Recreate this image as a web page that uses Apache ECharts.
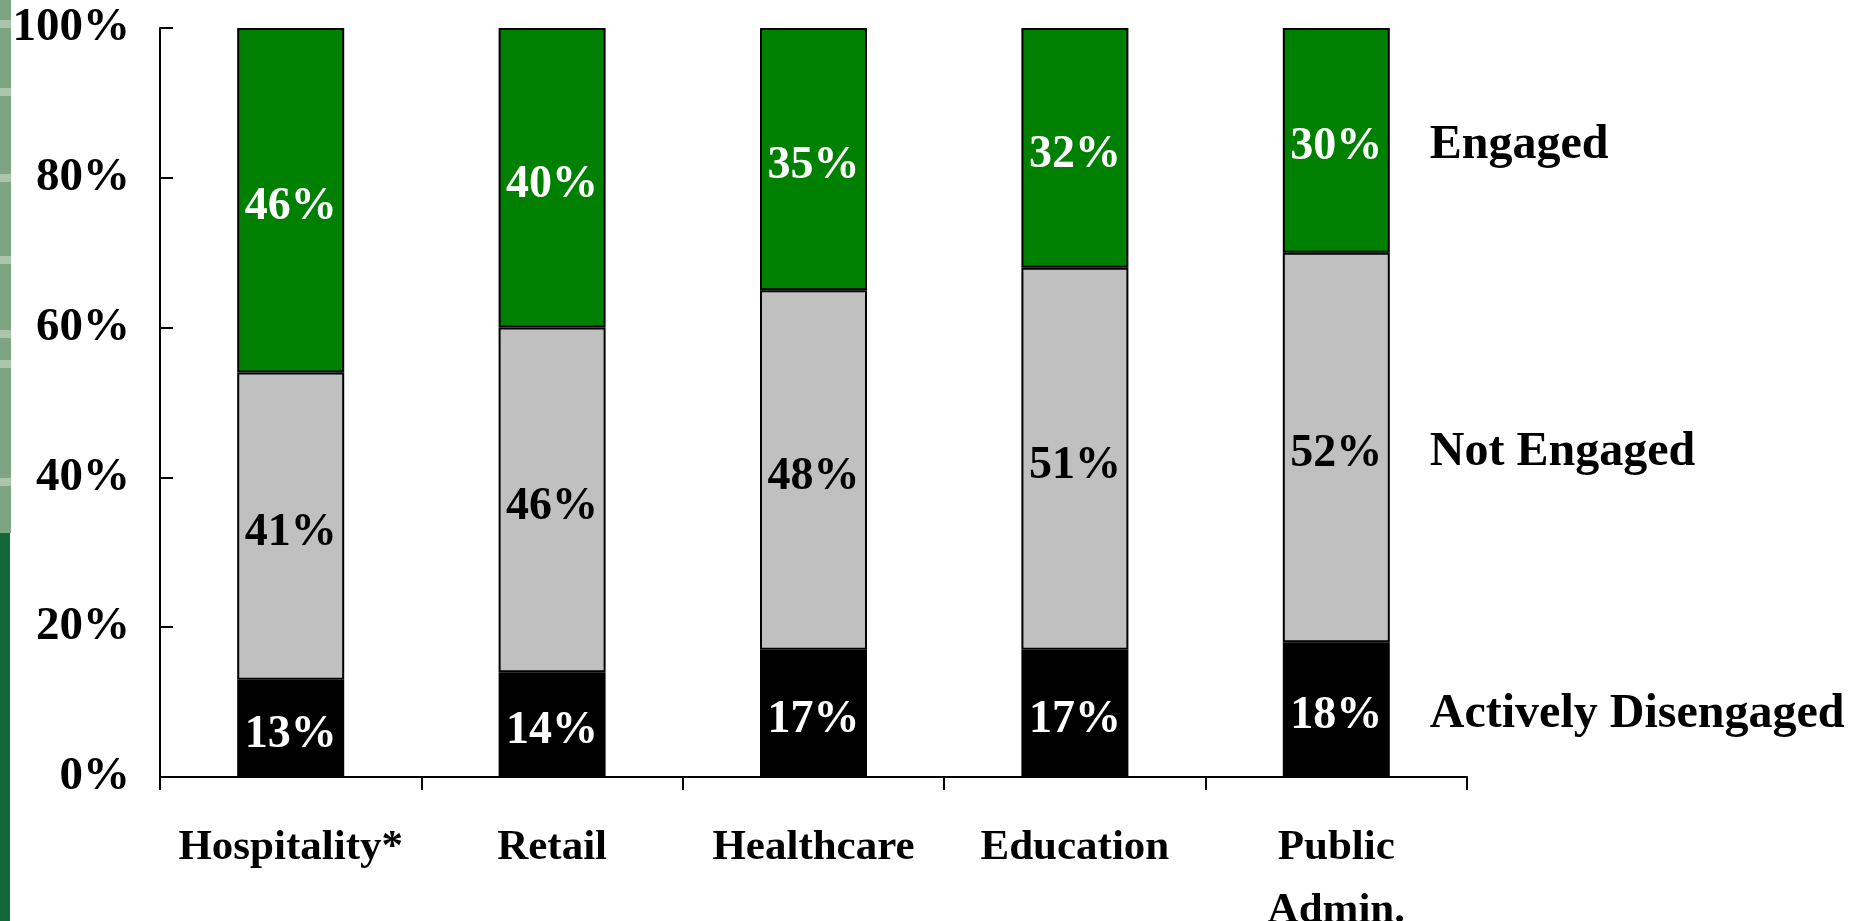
<!DOCTYPE html>
<html>
<head>
<meta charset="utf-8">
<title>Engagement by Industry</title>
<script src="https://cdn.jsdelivr.net/npm/echarts@6/dist/echarts.min.js"></script>
<style>
  html, body { margin: 0; padding: 0; background: #ffffff; overflow: hidden; }
  #chart { width: 1860px; height: 921px; }
</style>
</head>
<body>
<div id="chart"></div>
<script>
// Industries along the x axis
const categories = ['Hospitality*', 'Retail', 'Healthcare', 'Education', 'Public\nAdmin.'];

// Share of employees in each engagement group (percent), stacked bottom to top
const activelyDisengaged = [13, 14, 17, 17, 18];
const notEngaged = [41, 46, 48, 51, 52];
const engaged = [46, 40, 35, 32, 30];

const seriesNames = ['Actively Disengaged', 'Not Engaged', 'Engaged'];
const seriesValues = [activelyDisengaged, notEngaged, engaged];

// Value axis ticks
const yTicks = [0, 20, 40, 60, 80, 100];

const FONT = '"Liberation Serif", "Times New Roman", serif';
const BAR_WIDTH = 107;

const fills = ['#000000', '#c0c0c0', '#008000'];
const labelColors = ['#ffffff', '#000000', '#ffffff'];

const chart = echarts.init(document.getElementById('chart'), null, { renderer: 'canvas' });

// Decorative slide stripe at the left edge
const stripe = [
  { type: 'rect', shape: { x: 0, y: 0, width: 11, height: 533 }, style: { fill: '#7da581' }, z: -10 },
  { type: 'rect', shape: { x: 0, y: 533, width: 10, height: 388 }, style: { fill: '#13683a' }, z: -10 }
];
[20, 88, 174, 256, 330, 360, 478].forEach(function (y) {
  stripe.push({ type: 'rect', shape: { x: 0, y: y, width: 11, height: 8 }, style: { fill: '#a9c6ab' }, z: -9 });
});

chart.setOption({
  animation: false,
  backgroundColor: '#ffffff',
  textStyle: { fontFamily: FONT },
  grid: { left: 160, right: 393, top: 28, bottom: 144, containLabel: false, outerBoundsMode: 'none' },
  xAxis: {
    type: 'category',
    data: categories,
    boundaryGap: true,
    axisLine: { show: true, lineStyle: { color: '#000', width: 2 } },
    axisTick: { show: true, length: 13, interval: 0, lineStyle: { color: '#000', width: 2 } },
    axisLabel: {
      interval: 0,
      margin: 39,
      color: '#000',
      fontFamily: FONT,
      fontWeight: 'bold',
      fontSize: 43,
      lineHeight: 63,
      hideOverlap: false
    },
    splitLine: { show: false }
  },
  yAxis: {
    type: 'value',
    min: yTicks[0],
    max: yTicks[yTicks.length - 1],
    interval: yTicks[1] - yTicks[0],
    axisLine: { show: true, lineStyle: { color: '#000', width: 2 } },
    axisTick: { show: true, inside: true, length: 13, lineStyle: { color: '#000', width: 2 } },
    axisLabel: {
      margin: 30,
      color: '#000',
      fontFamily: FONT,
      fontWeight: 'bold',
      fontSize: 47,
      formatter: '{value}%'
    },
    splitLine: { show: false }
  },
  series: seriesNames.map(function (name, i) {
    return {
      name: name,
      type: 'bar',
      stack: 'total',
      barWidth: BAR_WIDTH,
      data: seriesValues[i],
      itemStyle: { color: fills[i], borderColor: '#000', borderWidth: 2 },
      label: {
        show: true,
        position: 'inside',
        offset: [0, 7],
        formatter: '{c}%',
        color: labelColors[i],
        fontFamily: FONT,
        fontWeight: 'bold',
        fontSize: 46,
        textBorderWidth: 0
      },
      emphasis: { disabled: true }
    };
  }),
  graphic: stripe
});

// Series names written beside the last bar, at the middle of each segment
const lastIdx = categories.length - 1;
let base = 0;
const nameLabels = seriesNames.map(function (name, i) {
  const v = seriesValues[i][lastIdx];
  const pt = chart.convertToPixel({ gridIndex: 0 }, [lastIdx, base + v / 2]);
  base += v;
  return {
    type: 'text',
    x: pt[0] + BAR_WIDTH / 2 + 40,
    y: pt[1] + 5,
    style: {
      text: name,
      font: 'bold 48px ' + FONT,
      fill: '#000',
      textAlign: 'left',
      textVerticalAlign: 'middle',
      align: 'left',
      verticalAlign: 'middle'
    }
  };
});

chart.setOption({ graphic: stripe.concat(nameLabels) });
</script>
</body>
</html>
